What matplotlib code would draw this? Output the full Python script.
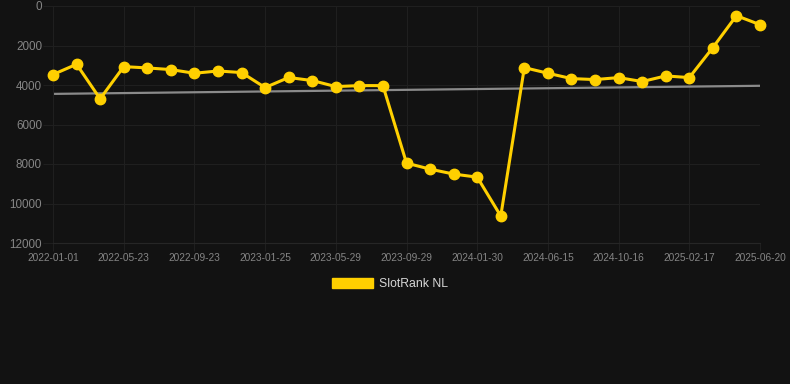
import matplotlib
matplotlib.use('agg')
import matplotlib.pyplot as plt
from matplotlib.patches import Patch

# data (rank, lower is better)
dates = ['2022-01-01', '2022-02-17', '2022-04-05', '2022-05-23', '2022-07-04', '2022-08-13',
         '2022-09-23', '2022-11-03', '2022-12-14', '2023-01-25', '2023-03-06', '2023-04-17',
         '2023-05-29', '2023-07-09', '2023-08-19', '2023-09-29', '2023-11-09', '2023-12-20',
         '2024-01-30', '2024-03-16', '2024-04-30', '2024-06-15', '2024-07-25', '2024-09-05',
         '2024-10-16', '2024-11-26', '2025-01-07', '2025-02-17', '2025-03-28', '2025-05-09',
         '2025-06-20']
rank_nl = [3470, 2950, 4700, 3070, 3135, 3220, 3405, 3290, 3370, 4130, 3620, 3775,
           4080, 4030, 4030, 7955, 8260, 8510, 8665, 10635, 3120, 3405, 3675, 3725,
           3625, 3825, 3540, 3625, 2105, 490, 945]
trend_ends = [4450, 4040]
y_ticks = [0, 2000, 4000, 6000, 8000, 10000, 12000]

bg = '#121212'
grid_c = '#1f1f1f'
tick_c = '#858585'
gold = '#FFD000'

plt.rcParams['font.family'] = ['Liberation Sans', 'DejaVu Sans']

fig = plt.figure(figsize=(7.9, 3.84), dpi=100, facecolor=bg)
ax = fig.add_axes([53 / 790, 1 - 243 / 384, (760 - 53) / 790, (243 - 6) / 384], facecolor=bg)

x = list(range(len(dates)))
ax.plot([x[0], x[-1]], trend_ends, color='#8a8a8a', lw=1.6, zorder=2)
ax.plot(x, rank_nl, color=gold, lw=2.2, marker='o', ms=7.5, zorder=3, clip_on=False)

ax.set_xlim(0, len(dates) - 1)
ax.set_ylim(12000, 0)
ax.set_yticks(y_ticks)
ax.set_yticklabels([str(v) for v in y_ticks], fontsize=8.4, color=tick_c)
ax.set_xticks(x[::3])
ax.set_xticklabels(dates[::3], fontsize=7.3, color=tick_c)
ax.tick_params(axis='y', length=7, color=grid_c, pad=1)
ax.tick_params(axis='x', length=6, color=grid_c, pad=1)
ax.grid(True, color=grid_c, lw=0.8)
ax.set_axisbelow(True)
for s in ['top', 'right']:
    ax.spines[s].set_visible(False)
ax.spines['left'].set_color(grid_c)
ax.spines['bottom'].set_color('#262626')

handle = Patch(facecolor=gold, edgecolor=gold)
fig.legend([handle], ['SlotRank NL'], loc='center', bbox_to_anchor=(390 / 790, 1 - 284 / 384),
           frameon=False, fontsize=8.8, labelcolor='#d6d6d6', handlelength=3.4, handleheight=0.9,
           handletextpad=0.5)

plt.savefig('out.png', dpi=100, facecolor=bg)
